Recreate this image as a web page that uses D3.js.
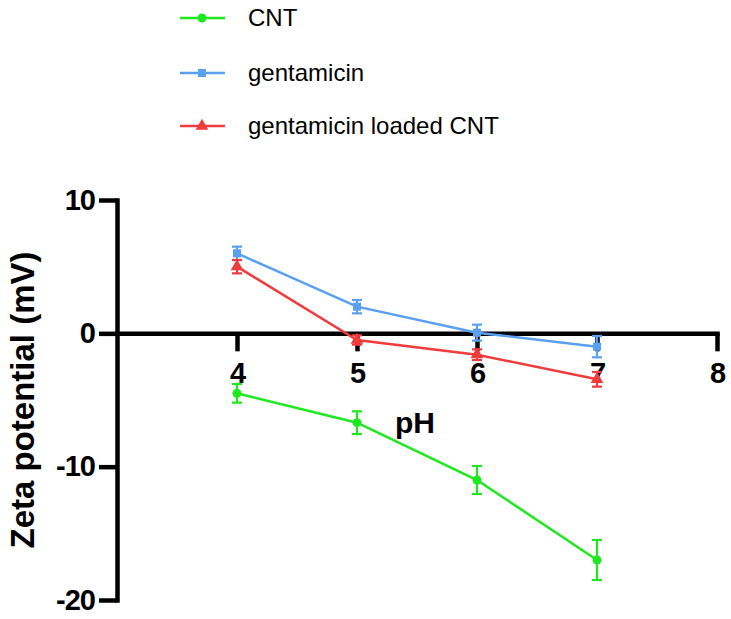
<html>
<meta charset="UTF-8">
<head>
  <script src="https://d3js.org/d3.v7.min.js"></script>
  <style>
    body { margin: 0; background: white; }
    text { font-family: "Liberation Sans", Arial, sans-serif; }
  </style>
</head>
<body>
<div id="chart"></div>
<script>
  // data
  var ph = [4, 5, 6, 7];
  var seriesNames = ["CNT", "gentamicin", "gentamicin loaded CNT"];
  var cntMean = [-4.5, -6.7, -11.0, -17.0];
  var cntErr = [0.7, 0.85, 1.05, 1.5];
  var gentMean = [6.0, 2.0, 0.05, -1.0];
  var gentErr = [0.5, 0.5, 0.6, 0.8];
  var loadedMean = [5.0, -0.5, -1.6, -3.45];
  var loadedErr = [0.5, 0.35, 0.4, 0.55];
  var xTicks = [4, 5, 6, 7, 8];
  var yTicks = [-20, -10, 0, 10];

  var colors = ["#1ee81e", "#5aa0f0", "#f03c3c"];
  var shapes = [d3.symbolCircle, d3.symbolSquare, d3.symbolTriangle];
  var symSizes = [64, 64, 70];

  var series = [
    { name: seriesNames[0], mean: cntMean, err: cntErr },
    { name: seriesNames[1], mean: gentMean, err: gentErr },
    { name: seriesNames[2], mean: loadedMean, err: loadedErr }
  ];
  series.forEach(function (s, i) {
    s.color = colors[i];
    s.shape = shapes[i];
    s.size = symSizes[i];
    s.points = ph.map(function (p, j) { return { x: p, y: s.mean[j], e: s.err[j] }; });
  });

  var width = 731, height = 619;

  var svg = d3.select("#chart").append("svg")
    .attr("width", width)
    .attr("height", height);

  var x = d3.scaleLinear().domain([3, 8]).range([117, 717]);
  var y = d3.scaleLinear().domain([-20, 10]).range([600, 200]);

  // plain hyphen minus, no decimals
  var fmt = function (d) { return String(d); };

  // x axis sits on y = 0
  var xAxis = d3.axisBottom(x)
    .tickValues(xTicks)
    .tickFormat(fmt)
    .tickSize(18)
    .tickSizeOuter(0)
    .tickPadding(11);

  var gx = svg.append("g")
    .attr("transform", "translate(0," + y(0) + ")")
    .call(xAxis);

  var yAxis = d3.axisLeft(y)
    .tickValues(yTicks)
    .tickFormat(fmt)
    .tickSize(18)
    .tickSizeOuter(0)
    .tickPadding(4);

  var gy = svg.append("g")
    .attr("transform", "translate(" + x(3) + ",0)")
    .call(yAxis);

  [gx, gy].forEach(function (g) {
    g.select(".domain").attr("stroke", "black").attr("stroke-width", 4.5).attr("stroke-linecap", "square");
    g.selectAll(".tick line").attr("stroke", "black").attr("stroke-width", 4.5);
    g.selectAll(".tick text")
      .attr("fill", "black")
      .attr("font-size", 29)
      .attr("font-weight", "bold")
      .attr("font-family", "'Liberation Sans', Arial, sans-serif")
      .attr("letter-spacing", -1);
  });

  // axis titles
  svg.append("text")
    .attr("x", 395)
    .attr("y", 433)
    .attr("font-size", 30)
    .attr("font-weight", "bold")
    .text("pH");

  svg.append("text")
    .attr("transform", "translate(34,400) rotate(-90)")
    .attr("text-anchor", "middle")
    .attr("font-size", 33)
    .attr("font-weight", "bold")
    .text("Zeta potential (mV)");

  var line = d3.line().x(function (d) { return x(d.x); }).y(function (d) { return y(d.y); });

  var groups = svg.selectAll(".series")
    .data(series)
    .enter()
    .append("g")
    .attr("class", "series");

  groups.append("path")
    .attr("d", function (d) { return line(d.points); })
    .attr("fill", "none")
    .attr("stroke", function (d) { return d.color; })
    .attr("stroke-width", 2.5);

  // error bars
  var capW = 5;
  groups.each(function (s) {
    var g = d3.select(this);
    var eb = g.selectAll(".err")
      .data(s.points)
      .enter()
      .append("g")
      .attr("class", "err")
      .attr("stroke", s.color)
      .attr("stroke-width", 2.2);
    eb.append("line")
      .attr("x1", function (d) { return x(d.x); })
      .attr("x2", function (d) { return x(d.x); })
      .attr("y1", function (d) { return y(d.y + d.e); })
      .attr("y2", function (d) { return y(d.y - d.e); });
    eb.append("line")
      .attr("x1", function (d) { return x(d.x) - capW; })
      .attr("x2", function (d) { return x(d.x) + capW; })
      .attr("y1", function (d) { return y(d.y + d.e); })
      .attr("y2", function (d) { return y(d.y + d.e); });
    eb.append("line")
      .attr("x1", function (d) { return x(d.x) - capW; })
      .attr("x2", function (d) { return x(d.x) + capW; })
      .attr("y1", function (d) { return y(d.y - d.e); })
      .attr("y2", function (d) { return y(d.y - d.e); });

    g.selectAll(".pt")
      .data(s.points)
      .enter()
      .append("path")
      .attr("class", "pt")
      .attr("transform", function (d) { return "translate(" + x(d.x) + "," + y(d.y) + ")"; })
      .attr("d", d3.symbol().type(s.shape).size(s.size))
      .attr("fill", s.color);
  });

  // legend
  var legendY = [18, 73, 126];
  var legend = svg.selectAll(".legend")
    .data(series)
    .enter()
    .append("g")
    .attr("class", "legend")
    .attr("transform", function (d, i) { return "translate(180," + legendY[i] + ")"; });

  legend.append("line")
    .attr("x1", 0)
    .attr("x2", 45)
    .attr("stroke", function (d) { return d.color; })
    .attr("stroke-width", 2.5);

  legend.append("path")
    .attr("transform", "translate(22,0)")
    .attr("d", function (d) { return d3.symbol().type(d.shape).size(d.size)(); })
    .attr("fill", function (d) { return d.color; });

  legend.append("text")
    .attr("x", 68)
    .attr("dy", "0.35em")
    .attr("font-size", 24)
    .text(function (d) { return d.name; });
</script>
</body>
</html>
